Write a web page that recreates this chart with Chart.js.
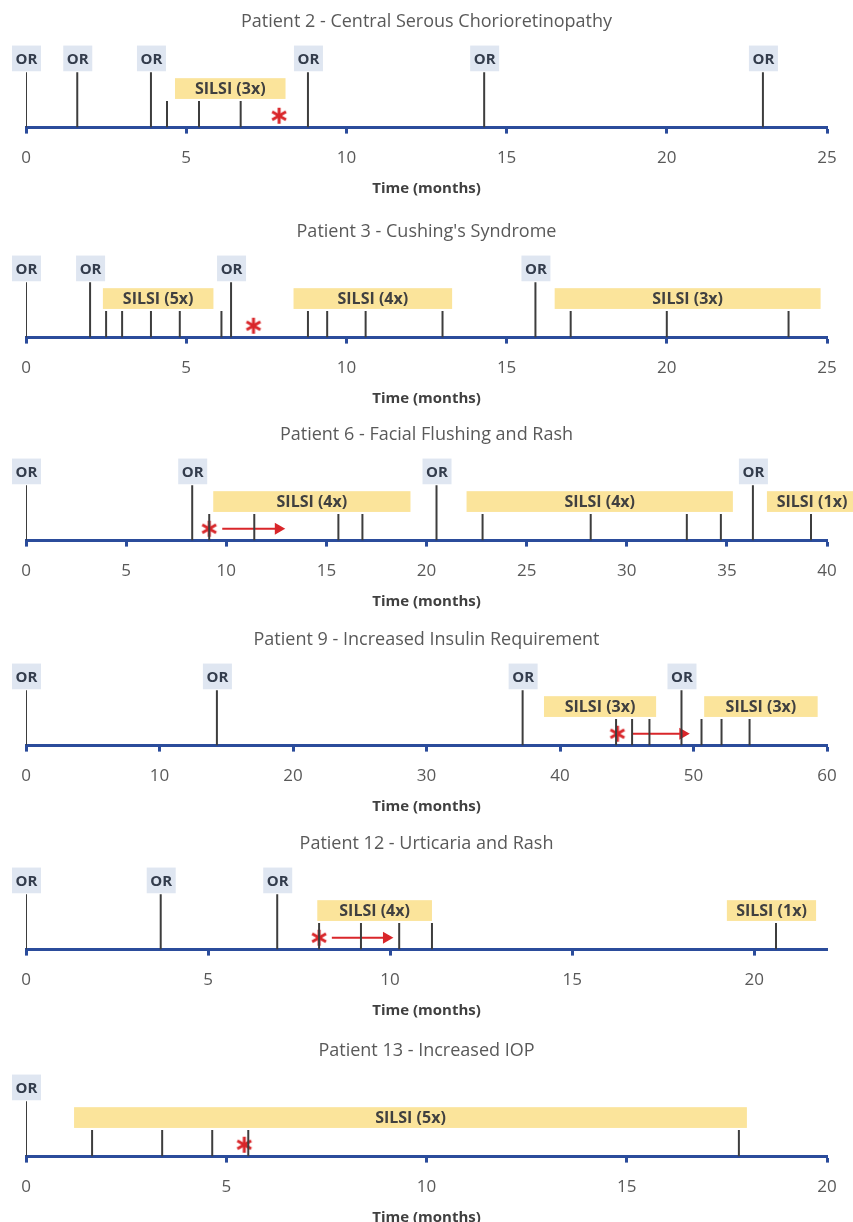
<!DOCTYPE html>
<html>
<head>
<meta charset="utf-8">
<script src="https://cdn.jsdelivr.net/npm/chart.js@4/dist/chart.umd.min.js"></script>
<style>
  html, body { margin: 0; padding: 0; background: #fff; overflow: hidden; }
  body { width: 853px; height: 1222px; position: relative; }
  .panel { position: absolute; left: 0; width: 853px; height: 196px; }
</style>
</head>
<body>
<script>
// one timeline per patient
var titles = [
    'Patient 2 - Central Serous Chorioretinopathy',
    "Patient 3 - Cushing's Syndrome",
    'Patient 6 - Facial Flushing and Rash',
    'Patient 9 - Increased Insulin Requirement',
    'Patient 12 - Urticaria and Rash',
    'Patient 13 - Increased IOP'
];
var axisMax = [25, 25, 40, 60, 22, 20];
var tickStep = [5, 5, 5, 10, 5, 5];

// office review visits (months)
var orVisits = [
    [0, 1.6, 3.9, 8.8, 14.3, 23.0],
    [0, 2.0, 6.4, 15.9],
    [0, 8.3, 20.5, 36.3],
    [0, 14.3, 37.2, 49.1],
    [0, 3.7, 6.9],
    [0]
];
// single injections (months)
var injections = [
    [4.4, 5.4, 6.7],
    [2.5, 3.0, 3.9, 4.8, 6.1, 8.8, 9.4, 10.6, 13.0, 17.0, 20.0, 23.8],
    [9.15, 11.4, 15.6, 16.8, 22.8, 28.2, 33.0, 34.7, 39.2],
    [44.2, 45.4, 46.7, 50.6, 52.1, 54.2],
    [8.05, 9.2, 10.25, 11.15, 20.6],
    [1.65, 3.4, 4.65, 5.55, 17.8]
];
// SILSI periods
var silsiStart = [[4.65], [2.4, 8.35, 16.5], [9.35, 22.0, 37.0], [38.8, 50.8], [8.0, 19.25], [1.2]];
var silsiEnd = [[8.1], [5.85, 13.3, 24.8], [19.2, 35.3, 41.5], [47.2, 59.3], [11.15, 21.7], [18.0]];
var silsiLabel = [
    ['SILSI (3x)'],
    ['SILSI (5x)', 'SILSI (4x)', 'SILSI (3x)'],
    ['SILSI (4x)', 'SILSI (4x)', 'SILSI (1x)'],
    ['SILSI (3x)', 'SILSI (3x)'],
    ['SILSI (4x)', 'SILSI (1x)'],
    ['SILSI (5x)']
];
// adverse event (asterisk) and ongoing arrow
var eventTime = [7.9, 7.1, 9.15, 44.3, 8.05, 5.45];
var arrowStart = [null, null, 9.8, 45.4, 8.4, null];
var arrowEnd = [null, null, 12.6, 49.2, 9.9, null];

var panelTop = [2, 212, 415, 620, 824, 1031];

// heights above the axis, in pixels (y scale runs 0..86 = chart area)
var OR_STEM = 56, INJ_STEM = 27, EVENT_Y = 12;
var OR_BOX = [57, 83], SILSI_BOX = [29, 50];

var FONT = "'Open Sans', sans-serif";
var AXIS_BLUE = '#2b4c9b';
var STEM = '#3d3d3d';
var RED = '#d9262a';

function stemData(times, h) {
    var d = [];
    times.forEach(function (t) {
        d.push({x: t, y: 0}, {x: t, y: h}, {x: t, y: null});
    });
    return d;
}

// six-armed red asterisk
function asterisk() {
    var c = document.createElement('canvas');
    c.width = 18; c.height = 18;
    var g = c.getContext('2d');
    g.strokeStyle = RED;
    g.lineWidth = 3;
    [90, 30, 150].forEach(function (a) {
        var r = a * Math.PI / 180;
        g.beginPath();
        g.moveTo(9 - 8 * Math.cos(r), 9 - 8 * Math.sin(r));
        g.lineTo(9 + 8 * Math.cos(r), 9 + 8 * Math.sin(r));
        g.stroke();
    });
    return c;
}
var starImg = asterisk();

var timelineBoxes = {
    id: 'timelineBoxes',
    beforeDatasetsDraw: function (chart) {
        var i = chart.options.plugins.timelineBoxes.panel;
        var x = chart.scales.x, y = chart.scales.y, ctx = chart.ctx;
        ctx.save();
        ctx.textAlign = 'center';
        ctx.textBaseline = 'middle';
        // SILSI periods
        silsiStart[i].forEach(function (s, k) {
            var x1 = x.getPixelForValue(s), x2 = x.getPixelForValue(silsiEnd[i][k]);
            var yT = y.getPixelForValue(SILSI_BOX[1]), yB = y.getPixelForValue(SILSI_BOX[0]);
            ctx.fillStyle = '#fbe49b';
            ctx.fillRect(x1, yT, x2 - x1, yB - yT);
            ctx.fillStyle = '#404040';
            ctx.font = 'bold 16px ' + FONT;
            ctx.fillText(silsiLabel[i][k], (x1 + x2) / 2, (yT + yB) / 2 + 1);
        });
        // OR labels
        orVisits[i].forEach(function (t) {
            var px = x.getPixelForValue(t);
            var yT = y.getPixelForValue(OR_BOX[1]), yB = y.getPixelForValue(OR_BOX[0]);
            ctx.fillStyle = '#dfe6f1';
            ctx.fillRect(px - 14, yT, 29, yB - yT);
            ctx.fillStyle = '#333c4c';
            ctx.font = 'bold 15px ' + FONT;
            ctx.fillText('OR', px + 0.5, (yT + yB) / 2 + 1);
        });
        ctx.restore();
    }
};

titles.forEach(function (title, i) {
    var div = document.createElement('div');
    div.className = 'panel';
    div.style.top = panelTop[i] + 'px';
    var canvas = document.createElement('canvas');
    canvas.width = 853;
    canvas.height = 196;
    div.appendChild(canvas);
    document.body.appendChild(div);

    var datasets = [
        {
            data: stemData(orVisits[i], OR_STEM),
            borderColor: STEM, borderWidth: 2, pointRadius: 0, spanGaps: false
        },
        {
            data: stemData(injections[i], INJ_STEM),
            borderColor: STEM, borderWidth: 2, pointRadius: 0, spanGaps: false
        },
        {
            data: [{x: eventTime[i], y: EVENT_Y}],
            showLine: false, pointStyle: starImg, pointRadius: 9
        }
    ];
    if (arrowEnd[i] !== null) {
        datasets.push({
            data: [{x: arrowStart[i], y: EVENT_Y}, {x: arrowEnd[i], y: EVENT_Y}],
            borderColor: RED, backgroundColor: RED, borderWidth: 2,
            pointRadius: [0, 5], pointStyle: 'triangle', rotation: 90
        });
    }

    new Chart(canvas, {
        type: 'line',
        data: {datasets: datasets},
        options: {
            responsive: false,
            animation: false,
            layout: {padding: {left: 26, right: 26, top: 0, bottom: 0}},
            plugins: {
                legend: {display: false},
                tooltip: {enabled: false},
                title: {
                    display: true,
                    text: title,
                    color: '#595959',
                    font: {family: FONT, size: 18, weight: 'normal'},
                    padding: {top: 9, bottom: 10}
                },
                timelineBoxes: {panel: i}
            },
            scales: {
                x: {
                    type: 'linear',
                    min: 0,
                    max: axisMax[i],
                    border: {display: true, color: AXIS_BLUE, width: 3},
                    grid: {drawOnChartArea: false, drawTicks: true, tickLength: 6, tickWidth: 3, tickColor: AXIS_BLUE},
                    ticks: {
                        stepSize: tickStep[i],
                        includeBounds: false,
                        padding: 14,
                        color: '#595959',
                        font: {family: FONT, size: 17}
                    },
                    title: {
                        display: true,
                        text: 'Time (months)',
                        color: '#404040',
                        font: {family: FONT, size: 15, weight: 'bold'},
                        padding: {top: -2, bottom: 0}
                    }
                },
                y: {display: false, min: 0, max: 86}
            }
        },
        plugins: [timelineBoxes]
    });
});
</script>
</body>
</html>
